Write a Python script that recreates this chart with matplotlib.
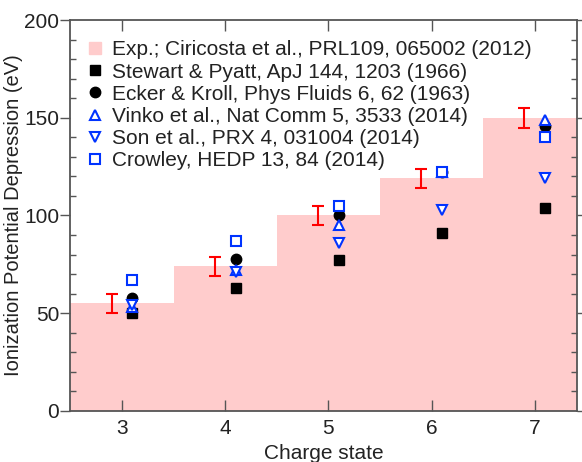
import matplotlib.pyplot as plt
from matplotlib.ticker import MultipleLocator

plt.rcParams['font.family'] = ['Liberation Sans', 'DejaVu Sans']

charge = [3, 4, 5, 6, 7]
exp_ipd = [55, 74, 100, 119, 150]
exp_err = [5, 5, 5, 5, 5]
stewart_pyatt = [50, 63, 77, 91, 104]
ecker_kroll = [58, 78, 100, 122, 146]
vinko = [53, 72, 95, 122, 149]
son = [54, 71, 86, 103, 119]
crowley = [67, 87, 105, 122, 140]

pink = '#ffcccc'
blue = '#0033ff'
txt = '#222222'

fig = plt.figure(figsize=(5.82, 4.62), dpi=100)
ax = fig.add_axes([0.1211, 0.1104, 0.8703, 0.8463])

ax.bar(charge, exp_ipd, width=1.0, color=pink, linewidth=0, zorder=0)
ax.errorbar([c - 0.1 for c in charge], exp_ipd, yerr=exp_err, fmt='none',
            ecolor='red', elinewidth=1.5, capsize=4, capthick=1.5, zorder=2)

xs = [c + 0.1 for c in charge]
ax.plot([], [], 's', color=pink, markersize=8, label='Exp.; Ciricosta et al., PRL109, 065002 (2012)')
ax.plot(xs, stewart_pyatt, 's', color='black', markersize=7, zorder=3,
        label='Stewart & Pyatt, ApJ 144, 1203 (1966)')
ax.plot(xs, ecker_kroll, 'o', color='black', markersize=7.5, zorder=3,
        label='Ecker & Kroll, Phys Fluids 6, 62 (1963)')
ax.plot(xs, vinko, '^', color=blue, markerfacecolor='white', markeredgewidth=1.5,
        markersize=7.5, zorder=4, label='Vinko et al., Nat Comm 5, 3533 (2014)')
ax.plot(xs, son, 'v', color=blue, markerfacecolor='white', markeredgewidth=1.5,
        markersize=7.5, zorder=4, label='Son et al., PRX 4, 031004 (2014)')
ax.plot(xs, crowley, 's', color=blue, markerfacecolor='white', markeredgewidth=1.5,
        markersize=7.5, zorder=5, label='Crowley, HEDP 13, 84 (2014)')

ax.set_xlim(2.5, 7.41)
ax.set_ylim(0, 200)
ax.xaxis.set_major_locator(MultipleLocator(1))
ax.yaxis.set_major_locator(MultipleLocator(50))
ax.yaxis.set_minor_locator(MultipleLocator(10))

for s in ax.spines.values():
    s.set_color('#555555')
    s.set_linewidth(1.3)
ax.tick_params(axis='x', which='major', direction='in', top=True, length=8,
               width=1, color='#555555', labelsize=15, labelcolor=txt, pad=6)
ax.tick_params(axis='y', which='major', direction='out', right=True, length=7,
               width=1, color='#555555', labelsize=15, labelcolor=txt, pad=1)
ax.tick_params(axis='y', which='minor', direction='in', right=True, length=4,
               width=1, color='#555555')

ax.set_xlabel('Charge state', fontsize=15, color=txt, labelpad=4)
ax.set_ylabel('Ionization Potential Depression (eV)', fontsize=14.5, color=txt, labelpad=1)

leg = ax.legend(loc='upper left', frameon=False, fontsize=15, handletextpad=0.3,
                handlelength=1.0, labelspacing=0.15, borderaxespad=0.3,
                bbox_to_anchor=(0.0, 0.985))
for t in leg.get_texts():
    t.set_color(txt)

fig.savefig('out.png', dpi=100)
